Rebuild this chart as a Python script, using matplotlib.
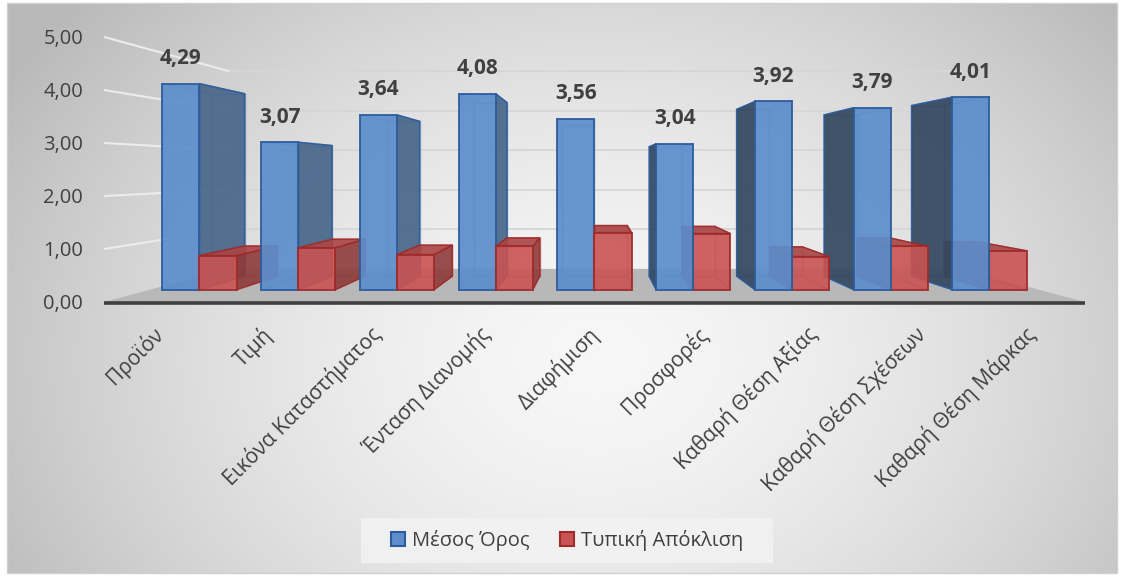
import matplotlib.pyplot as plt
import numpy as np
from matplotlib.patches import Polygon, Patch, Rectangle

categories = ['Προϊόν', 'Τιμή', 'Εικόνα Καταστήματος', 'Ένταση Διανομής', 'Διαφήμιση',
              'Προσφορές', 'Καθαρή Θέση Αξίας', 'Καθαρή Θέση Σχέσεων', 'Καθαρή Θέση Μάρκας']
mean_vals = [4.29, 3.07, 3.64, 4.08, 3.56, 3.04, 3.92, 3.79, 4.01]
std_vals = [0.71, 0.87, 0.73, 0.90, 1.19, 1.17, 0.69, 0.90, 0.81]
series_names = ['Μέσος Όρος', 'Τυπική Απόκλιση']
y_ticks = [0, 1, 2, 3, 4, 5]

plt.rcParams['font.family'] = ['Open Sans', 'DejaVu Sans']
TXT = '#404040'

# simple perspective: front plane is in axis units, deeper planes shrink
# towards the vanishing point
n = len(categories)
VP_X = (n - 1) / 2
VP_Y = 2.47
S_FRONT, S_BACK, S_WALL = 0.906, 0.8025, 0.747
BAR_W = 0.375


def proj(x, y, s):
    return (VP_X + (x - VP_X) * s, VP_Y + (y - VP_Y) * s)


def draw_box(ax, x0, x1, h, col, z):
    fr = [proj(x0, 0, S_FRONT), proj(x1, 0, S_FRONT), proj(x1, h, S_FRONT), proj(x0, h, S_FRONT)]
    bk = [proj(x0, 0, S_BACK), proj(x1, 0, S_BACK), proj(x1, h, S_BACK), proj(x0, h, S_BACK)]
    # back edges showing through the glassy faces
    ax.add_patch(Polygon(bk, closed=True, fill=False, edgecolor=col['edge'], lw=1,
                         alpha=0.45, zorder=z))
    for a, b in zip(fr, bk):
        ax.plot([a[0], b[0]], [a[1], b[1]], color=col['edge'], lw=1, alpha=0.45, zorder=z)
    if x1 < VP_X:
        ax.add_patch(Polygon([fr[1], fr[2], bk[2], bk[1]], closed=True, facecolor=col['right'],
                             edgecolor=col['edge'], lw=1.1, alpha=col['alpha'], zorder=z + 0.1))
    if x0 > VP_X:
        ax.add_patch(Polygon([fr[0], fr[3], bk[3], bk[0]], closed=True, facecolor=col['left'],
                             edgecolor=col['edge'], lw=1.1, alpha=col['alpha'], zorder=z + 0.1))
    if h < VP_Y:
        ax.add_patch(Polygon([fr[3], fr[2], bk[2], bk[3]], closed=True, facecolor=col['top'],
                             edgecolor=col['edge'], lw=1.1, alpha=col['alpha'], zorder=z + 0.2))
    ax.add_patch(Polygon(fr, closed=True, facecolor=col['front'], edgecolor=col['edge'],
                         lw=1.4, alpha=col['alpha'], zorder=z + 0.3))


blue = {'front': '#5d8dcb', 'right': '#48668a', 'left': '#33475f', 'top': '#4f7fbf',
        'edge': '#2c5c9c', 'alpha': 0.92}
red = {'front': '#c95352', 'right': '#8e3b3b', 'left': '#8e3b3b', 'top': '#a94444',
       'edge': '#a02a2a', 'alpha': 0.9}

fig = plt.figure(figsize=(11.22, 5.76), dpi=100)

# soft grey background, lighter towards the middle
bg = fig.add_axes([0, 0, 1, 1], zorder=-10)
H, W = 288, 561
yy, xx = np.mgrid[0:H, 0:W]
d = np.sqrt(((xx / W - 0.53) / 0.62) ** 2 + ((yy / H - 0.62) / 0.95) ** 2)
shade = 247 - 62 * np.clip(d, 0, 1) ** 1.6
img = np.dstack([shade, shade, shade]) / 255.0
bg.imshow(img, extent=[7, 1117, 573, 3], aspect='auto')
bg.add_patch(Rectangle((7, 3), 1110, 570, fill=False, edgecolor='#d0d0d0', lw=1))
# legend backing panel
bg.add_patch(Rectangle((361, 518), 412, 45, facecolor='#f2f2f2', edgecolor='none', alpha=0.9))
bg.set_xlim(0, 1122)
bg.set_ylim(576, 0)
bg.axis('off')

ax = fig.add_axes([0.0927, 0.4389, 0.8743, 0.5429])
ax.set_facecolor('none')
ax.set_xlim(-0.5, n - 0.5)
ax.set_ylim(-0.4, 5.5)
for sp in ax.spines.values():
    sp.set_visible(False)

# floor
floor = [proj(-0.5, 0, 1), proj(n - 0.5, 0, 1), proj(n - 0.5, 0, S_WALL), proj(-0.5, 0, S_WALL)]
ax.add_patch(Polygon(floor, closed=True, facecolor='#b8b8b8', edgecolor='none', zorder=1))
ax.plot([-0.5, n - 0.5], [-0.02, -0.02], color='#3f3f3f', lw=2.6, zorder=1.5,
        solid_capstyle='round')

# gridlines on back wall and side wall
for k in y_ticks[1:]:
    a, b = proj(-0.5, k, S_WALL), proj(n - 0.5, k, S_WALL)
    ax.plot([a[0], b[0]], [a[1], b[1]], color='#d6d6d6', lw=1.3, zorder=0.5)
    c = proj(-0.5, k, 1)
    ax.plot([c[0], a[0]], [c[1], a[1]], color='#ececec', lw=1.5, zorder=0.5)

# bars: paint the ones furthest from the vanishing point first
bars = []
for i in range(n):
    bars.append((i - BAR_W, i, mean_vals[i], blue))
    bars.append((i, i + BAR_W, std_vals[i], red))
bars.sort(key=lambda b: -abs((b[0] + b[1]) / 2 - VP_X))
for k, (x0, x1, h, col) in enumerate(bars):
    draw_box(ax, x0, x1, h, col, 2 + k)

# value labels above the mean bars
for i, v in enumerate(mean_vals):
    px, py = proj(i - BAR_W / 2, v, S_FRONT)
    ax.annotate(f'{v:.2f}'.replace('.', ','), xy=(px, py), xytext=(0, 18),
                textcoords='offset points', ha='center', va='center',
                fontsize=15, fontweight='bold', color=TXT, zorder=50)

# category labels
for i, lab in enumerate(categories):
    ax.annotate(lab, xy=(i, 0), xytext=(1, -21), textcoords='offset points',
                rotation=45, rotation_mode='anchor', ha='right', va='center',
                fontsize=15, color=TXT, annotation_clip=False)

ax.set_xticks([])
ax.set_yticks(y_ticks)
ax.set_yticklabels([f'{t:.2f}'.replace('.', ',') for t in y_ticks])
ax.tick_params(axis='y', length=0, pad=15, labelsize=14.5, labelcolor=TXT)

handles = [Patch(facecolor=blue['front'], edgecolor=blue['edge'], lw=1.5),
           Patch(facecolor=red['front'], edgecolor=red['edge'], lw=1.5)]
leg = fig.legend(handles, series_names, loc='center', bbox_to_anchor=(0.5053, 0.0616),
                 ncol=2, fontsize=14.5, frameon=False, handlelength=0.7,
                 handleheight=0.7, handletextpad=0.35, columnspacing=1.5)
for t in leg.get_texts():
    t.set_color(TXT)

plt.savefig('out.png', dpi=100)
